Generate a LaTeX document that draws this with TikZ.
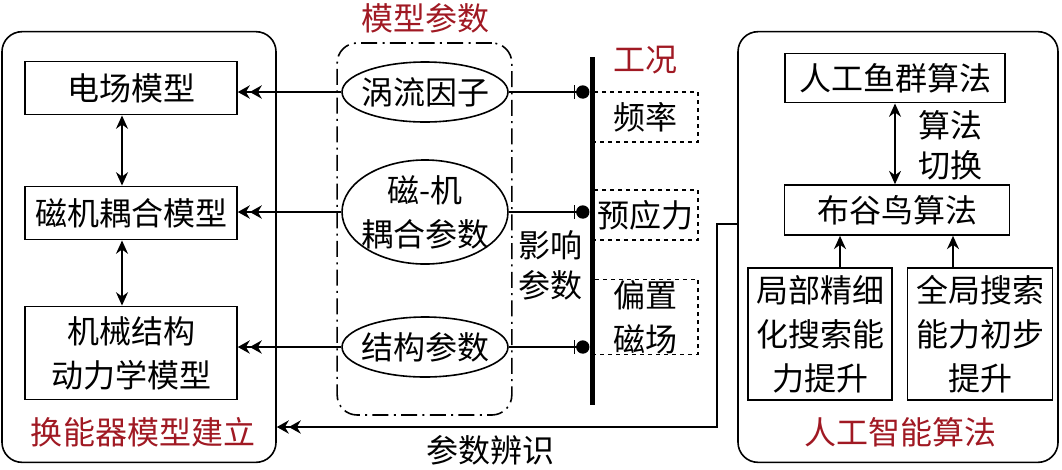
\documentclass[tikz,border=0pt]{standalone}
\usepackage{fontspec}
\setmainfont{Noto Sans CJK SC}
\usepackage{xcolor}
\usepackage{tikz}
\usetikzlibrary{arrows.meta, positioning, shapes.geometric}
\definecolor{titlered}{RGB}{160,25,35}

\begin{document}
\begin{tikzpicture}[
    x=0.75pt, y=-0.75pt,
    line width=1.2pt,
    block/.style={
        rectangle, draw=black, inner sep=0pt,
        minimum width=159pt, minimum height=40pt,
        text centered, align=center,
        font=\fontsize{24}{33}\selectfont
    },
    param/.style={
        ellipse, draw=black, inner ysep=0pt, inner xsep=-4pt,
        minimum width=120pt, minimum height=45pt,
        align=center, font=\fontsize{24}{33}\selectfont
    },
    cond/.style={
        rectangle, draw=black, dashed, inner sep=0pt,
        minimum width=79.5pt, minimum height=37.5pt,
        align=center, font=\fontsize{24}{33}\selectfont
    },
    frame/.style={
        rectangle, draw=black, rounded corners=15pt, inner sep=0pt
    },
    title/.style={text=titlered, font=\fontsize{24}{30}\selectfont},
    note/.style={align=center, font=\fontsize{24}{30}\selectfont},
    dblarrow/.style={-{Stealth[length=9pt,width=10pt]Stealth[length=9pt,width=10pt]}},
    both/.style={{Stealth[length=10pt,width=9pt]}-{Stealth[length=10pt,width=9pt]}},
    arrow/.style={-{Stealth[length=10pt,width=9pt]}},
    probe/.style={-{Bar[width=10pt,sep=0.5pt]Circle[length=10pt]}},
]
\useasboundingbox (0,0) rectangle (1062,469);

%% Riquadri grandi
\node[frame, minimum width=205.5pt, minimum height=323pt] (model) at (139,247) {};
\node[title] (modeltitle) at (143,432) {换能器模型建立};
\node[frame, minimum width=240pt, minimum height=323pt] (ai) at (898,247) {};
\node[title] (aititle) at (900,432) {人工智能算法};

%% Modelli
\node[block] (efield) at (131,88) {电场模型};
\node[block] (coupled) at (131,213) {磁机耦合模型};
\node[block, minimum height=70pt] (mech) at (131,353) {机械结构\\动力学模型};
\draw[both] (efield.south -| 122,0) -- (coupled.north -| 122,0);
\draw[both] (coupled.south -| 122,0) -- (mech.north -| 122,0);

%% Parametri del modello
\node[frame, dash pattern=on 12pt off 4pt on 1.5pt off 4pt,
      minimum width=131pt, minimum height=279pt] (pbox) at (424.5,229) {};
\node[title] (ptitle) at (425,18) {模型参数};
\node[param] (eddy) at (425,92) {涡流因子};
\node[param, minimum height=68pt] (mcpar) at (425,212) {磁-机\\耦合参数};
\node[param] (struct) at (425,347) {结构参数};

%% Condizioni di lavoro
\coordinate (bartop) at (592,57);
\coordinate (barbot) at (592,405);
\node[title] (wtitle) at (645,60) {工况};
\node[cond] (freq) at (645,117) {频率};
\node[cond] (prest) at (645,215) {预应力};
\node[cond, minimum height=56pt] (bias) at (645,317) {偏置\\磁场};
\draw[line width=3.75pt] (bartop) -- (barbot);
\node[note] (infl) at (550,265) {影响\\参数};

%% Frecce parametri
\draw[dblarrow] (eddy.west) -- (efield.east |- eddy.west);
\draw[dblarrow] (mcpar.west) -- (coupled.east |- mcpar.west);
\draw[dblarrow] (struct.west) -- (mech.east |- struct.west);
\draw[probe] (eddy.east) -- ([xshift=-1.9pt]bartop |- eddy.east);
\draw[probe] (mcpar.east) -- ([xshift=-1.9pt]bartop |- mcpar.east);
\draw[probe] (struct.east) -- ([xshift=-1.9pt]bartop |- struct.east);

%% Algoritmi
\node[block, minimum width=165pt, minimum height=37pt] (afsa) at (895,78) {人工鱼群算法};
\node[block, minimum width=169pt, minimum height=37.5pt] (cuckoo) at (897,210) {布谷鸟算法};
\node[note] (switch) at (950,145) {算法\\切换};
\draw[both] (afsa.south -| 895,0) -- (cuckoo.north -| 895,0);
\node[block, minimum width=108pt, minimum height=99pt] (local) at (820,334) {局部精细\\化搜索能\\力提升};
\node[block, minimum width=109pt, minimum height=99pt] (global) at (980,334) {全局搜索\\能力初步\\提升};
\draw[arrow] (local.north -| 840,0) -- (cuckoo.south -| 840,0);
\draw[arrow] (global.north -| 953,0) -- (cuckoo.south -| 953,0);

%% Identificazione
\coordinate (fb1) at (717,224);
\coordinate (fb2) at (717,427);
\draw[dblarrow] (ai.west |- fb1) -- (fb1) -- (fb2) -- (model.east |- fb2);
\node[note] (ident) at (490,450) {参数辨识};

\end{tikzpicture}
\end{document}
